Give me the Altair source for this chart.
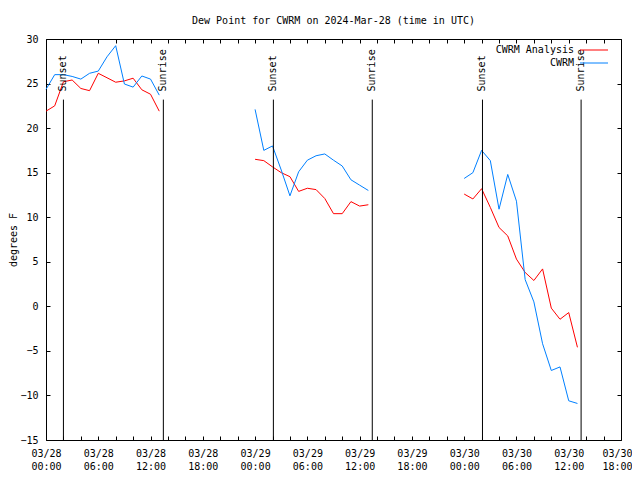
import altair as alt
import pandas as pd

FONT = "DejaVu Sans Mono"

# hourly samples in hours since 03/28 00:00 UTC, three segments
seg_hours = [list(range(0, 14)), list(range(24, 38)), list(range(48, 62))]
cwrm = [
    [24.35, 26.0, 26.0, 25.8, 25.5, 26.15, 26.4, 28.0, 29.25, 24.95, 24.6, 25.85, 25.5, 23.7],
    [22.1, 17.5, 18.0, 15.3, 12.4, 15.1, 16.4, 16.9, 17.1, 16.4, 15.75, 14.2, 13.6, 13.0],
    [14.35, 15.0, 17.5, 16.35, 10.9, 14.8, 11.8, 3.0, 0.5, -4.2, -7.2, -6.8, -10.6, -10.9],
]
analysis = [
    [21.9, 22.5, 25.2, 25.4, 24.45, 24.2, 26.15, 25.65, 25.15, 25.3, 25.6, 24.3, 23.8, 21.9],
    [16.5, 16.35, 15.65, 15.0, 14.55, 12.9, 13.25, 13.1, 12.1, 10.4, 10.4, 11.75, 11.25, 11.4],
    [12.6, 12.05, 13.2, 11.1, 8.85, 7.9, 5.3, 3.8, 2.9, 4.2, -0.2, -1.45, -0.7, -4.6],
]
series_names = ["CWRM Analysis", "CWRM"]
series_colors = ["#ff0000", "#0080ff"]

event_times = [2.0, 13.47, 26.1, 37.45, 50.1, 61.42]
event_labels = ["Sunset", "Sunrise", "Sunset", "Sunrise", "Sunset", "Sunrise"]

x_ticks = list(range(0, 67, 2))
y_ticks = list(range(-15, 31, 5))

rows = []
for hs, cw, an in zip(seg_hours, cwrm, analysis):
    for h, c, a in zip(hs, cw, an):
        rows.append({"hour": h, "value": a, "series": series_names[0], "seg": hs[0]})
        rows.append({"hour": h, "value": c, "series": series_names[1], "seg": hs[0]})
df = pd.DataFrame(rows)
ev = pd.DataFrame({"t": event_times, "label": event_labels})

xscale = alt.Scale(domain=[0, 66], nice=False, zero=False)
yscale = alt.Scale(domain=[-15, 30], nice=False, zero=False)

label_expr = (
    "datum.value % 6 == 0 ? ['03/' + (28 + floor(datum.value / 24)), "
    "((datum.value % 24) < 10 ? '0' : '') + (datum.value % 24) + ':00'] : ''"
)

base_axis = dict(grid=False, tickColor="black", domainColor="black", labelColor="black",
                 labelFont=FONT, labelFontSize=10, titleFont=FONT, titleFontSize=10,
                 titleFontWeight="normal", titleColor="black")

lines = alt.Chart(df).mark_line(strokeWidth=1).encode(
    x=alt.X("hour:Q", scale=xscale, axis=alt.Axis(
        orient="bottom", values=x_ticks, labelExpr=label_expr, offset=-4, tickSize=4,
        domain=False, labelOverlap=False, labelFlush=False, labelBound=False,
        labelOffset={"expr": "datum.value == 66 ? -4 : 0"},
        labelPadding=8, labelLineHeight=13, title=None, **base_axis)),
    y=alt.Y("value:Q", scale=yscale, axis=alt.Axis(
        orient="left", values=y_ticks, offset=-4, tickSize=4, domain=False,
        labelPadding=8, labelOverlap=False, labelFlush=False,
        title="degrees F", titlePadding=1, **base_axis)),
    color=alt.Color("series:N", scale=alt.Scale(domain=series_names, range=series_colors),
                    legend=alt.Legend(title=None, orient="none", legendX=529, legendY=6,
                                      symbolType="M0,0H7", symbolSize=64, symbolStrokeWidth=1,
                                      symbolFillColor="transparent",
                                      labelAlign="right", labelOffset={"expr": "-11"},
                                      labelFont=FONT, labelFontSize=10, labelColor="black",
                                      rowPadding=3, padding=0)),
    detail="seg:N",
)

mirror = alt.Chart(df).mark_point(opacity=0).encode(
    x=alt.X("hour:Q", scale=xscale, axis=alt.Axis(
        orient="top", values=x_ticks, labels=False, offset=-4, tickSize=4, domain=False,
        title=None, **base_axis)),
    y=alt.Y("value:Q", scale=yscale, axis=alt.Axis(
        orient="right", values=y_ticks, labels=False, offset=-4, tickSize=4, domain=False,
        title=None, **base_axis)),
)

frame_a = alt.Chart(df).mark_point(opacity=0).encode(
    x=alt.X("hour:Q", scale=xscale, axis=alt.Axis(
        orient="bottom", values=[], labels=False, ticks=False, domain=True, title=None, **base_axis)),
    y=alt.Y("value:Q", scale=yscale, axis=alt.Axis(
        orient="left", values=[], labels=False, ticks=False, domain=True, title=None, **base_axis)),
)

frame_b = alt.Chart(df).mark_point(opacity=0).encode(
    x=alt.X("hour:Q", scale=xscale, axis=alt.Axis(
        orient="top", values=[], labels=False, ticks=False, domain=True, title=None, **base_axis)),
    y=alt.Y("value:Q", scale=yscale, axis=alt.Axis(
        orient="right", values=[], labels=False, ticks=False, domain=True, title=None, **base_axis)),
)

rules = alt.Chart(ev).mark_rule(color="black", strokeWidth=1).encode(
    x=alt.X("t:Q", scale=xscale, axis=None),
    y=alt.Y(datum=-15, scale=yscale, axis=None),
    y2=alt.Y2(datum=23.2),
)

texts = alt.Chart(ev).mark_text(angle=270, align="left", baseline="middle", font=FONT,
                                fontSize=10, color="black", dx=1).encode(
    x=alt.X("t:Q", scale=xscale, axis=None),
    y=alt.Y(datum=24.0, scale=yscale, axis=None),
    text="label:N",
)

chart = alt.layer(lines, mirror, frame_a, frame_b, rules, texts).resolve_axis(
    x="independent", y="independent"
).properties(
    width=575,
    height=401,
    title=alt.TitleParams("Dew Point for CWRM on 2024-Mar-28 (time in UTC)", font=FONT,
                          fontSize=10, fontWeight="normal", anchor="middle", offset=8,
                          color="black"),
    autosize=alt.AutoSizeParams(type="none"),
    padding={"left": 38, "top": 31, "right": 11, "bottom": 34},
).configure_view(stroke=None).configure(background="white")

chart.save("out.html", embed_options={"renderer": "svg", "actions": False})
